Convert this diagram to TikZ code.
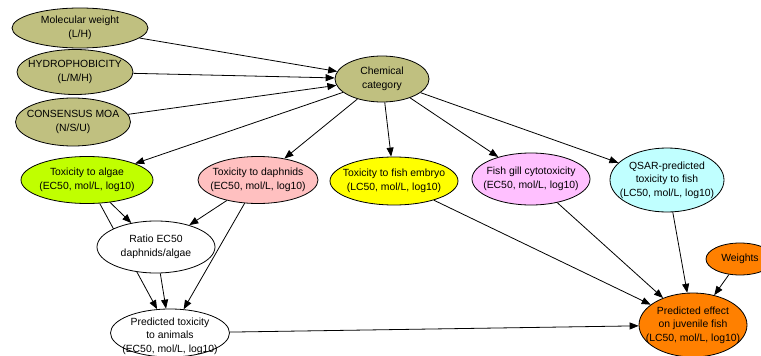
\documentclass[tikz,border=0pt]{standalone}
\usepackage{fontspec}
\setmainfont{Liberation Sans}
\usetikzlibrary{shapes.geometric,arrows.meta,backgrounds}
\definecolor{olivebn}{RGB}{192,192,128}
\definecolor{limebn}{RGB}{192,255,0}
\definecolor{pinkbn}{RGB}{255,192,192}
\definecolor{yellowbn}{RGB}{255,255,0}
\definecolor{violetbn}{RGB}{255,192,255}
\definecolor{cyanbn}{RGB}{192,255,255}
\definecolor{orangebn}{RGB}{255,128,0}
\tikzset{
  bn/.style={ellipse, draw=black, line width=0.8pt, inner sep=0pt},
  txt/.style={align=center, inner sep=0pt, font=\fontsize{10.4}{13.5}\selectfont},
  link/.style={draw=black, line width=0.8pt, -{Triangle[length=9pt,width=7pt]}},
}
\begin{document}
\begin{tikzpicture}[x=1pt,y=-1pt]
\useasboundingbox (0,0) rectangle (761,356);
\clip (0,0) rectangle (761,356);

% chemical descriptors
\node[bn, fill=olivebn, minimum width=136, minimum height=40,
  label={[txt]center:{Molecular weight\\(L/H)}}] (mw) at (80,28) {};
\node[bn, fill=olivebn, minimum width=116, minimum height=45,
  label={[txt]center:{HYDROPHOBICITY\\(L/M/H)}}] (hy) at (75,72) {};
\node[bn, fill=olivebn, minimum width=115, minimum height=48,
  label={[txt]center:{CONSENSUS MOA\\(N/S/U)}}] (moa) at (73,122) {};
\node[bn, fill=olivebn, minimum width=94, minimum height=46,
  label={[txt]center:{Chemical\\category}}] (cc) at (382,79) {};

% toxicity endpoints
\node[bn, fill=limebn, minimum width=132, minimum height=47,
  label={[txt]center:{Toxicity to algae\\(EC50, mol/L, log10)}}] (alg) at (87,180) {};
\node[bn, fill=pinkbn, minimum width=120, minimum height=47,
  label={[txt]center:{Toxicity to daphnids\\(EC50, mol/L, log10)}}] (dap) at (258,180) {};
\node[bn, fill=yellowbn, minimum width=128, minimum height=48,
  label={[txt]center:{Toxicity to fish embryo\\(LC50, mol/L, log10)}}] (emb) at (394,181) {};
\node[bn, fill=violetbn, minimum width=118, minimum height=52,
  label={[txt]center:{Fish gill cytotoxicity\\(EC50, mol/L, log10)}}] (gill) at (531,179) {};
\node[bn, fill=cyanbn, minimum width=114, minimum height=64,
  label={[txt]center:{QSAR-predicted\\toxicity to fish\\(LC50, mol/L, log10)}}] (qsar) at (667,180) {};

% derived quantities
\node[bn, fill=white, minimum width=118, minimum height=52,
  label={[txt]center:{Ratio EC50\\daphnids/algae}}] (ratio) at (156,247) {};
\node[bn, fill=white, minimum width=119, minimum height=48,
  label={[txt, yshift=-3]center:{Predicted toxicity\\to animals\\(EC50, mol/L, log10)}}] (ptox) at (170,333) {};
\node[bn, fill=orangebn, minimum width=68, minimum height=32,
  label={[txt]center:{Weights}}] (wts) at (740,259) {};
\node[bn, fill=orangebn, minimum width=108, minimum height=64,
  label={[txt]center:{Predicted effect\\on juvenile fish\\(LC50, mol/L, log10)}}] (eff) at (693,325) {};

% white sheet and connectors, kept behind the ellipses
\begin{scope}[on background layer]
\fill[white] (0,0) rectangle (761,356);
\draw[link] (mw) -- (cc);
\draw[link] (hy) -- (cc);
\draw[link] (moa) -- (cc);
\draw[link] (cc) -- (alg);
\draw[link] (cc) -- (dap);
\draw[link] (cc) -- (emb);
\draw[link] (cc) -- (gill);
\draw[link] (cc) -- (qsar);
\draw[link] (alg) -- (ratio);
\draw[link] (alg) -- (ptox);
\draw[link] (dap) -- (ratio);
\draw[link] (dap) -- (ptox);
\draw[link] (ratio) -- (ptox);
\draw[link] (ptox) -- (eff);
\draw[link] (emb) -- (eff);
\draw[link] (gill) -- (eff);
\draw[link] (qsar) -- (eff);
\draw[link] (wts) -- (eff);
\end{scope}
\end{tikzpicture}
\end{document}
